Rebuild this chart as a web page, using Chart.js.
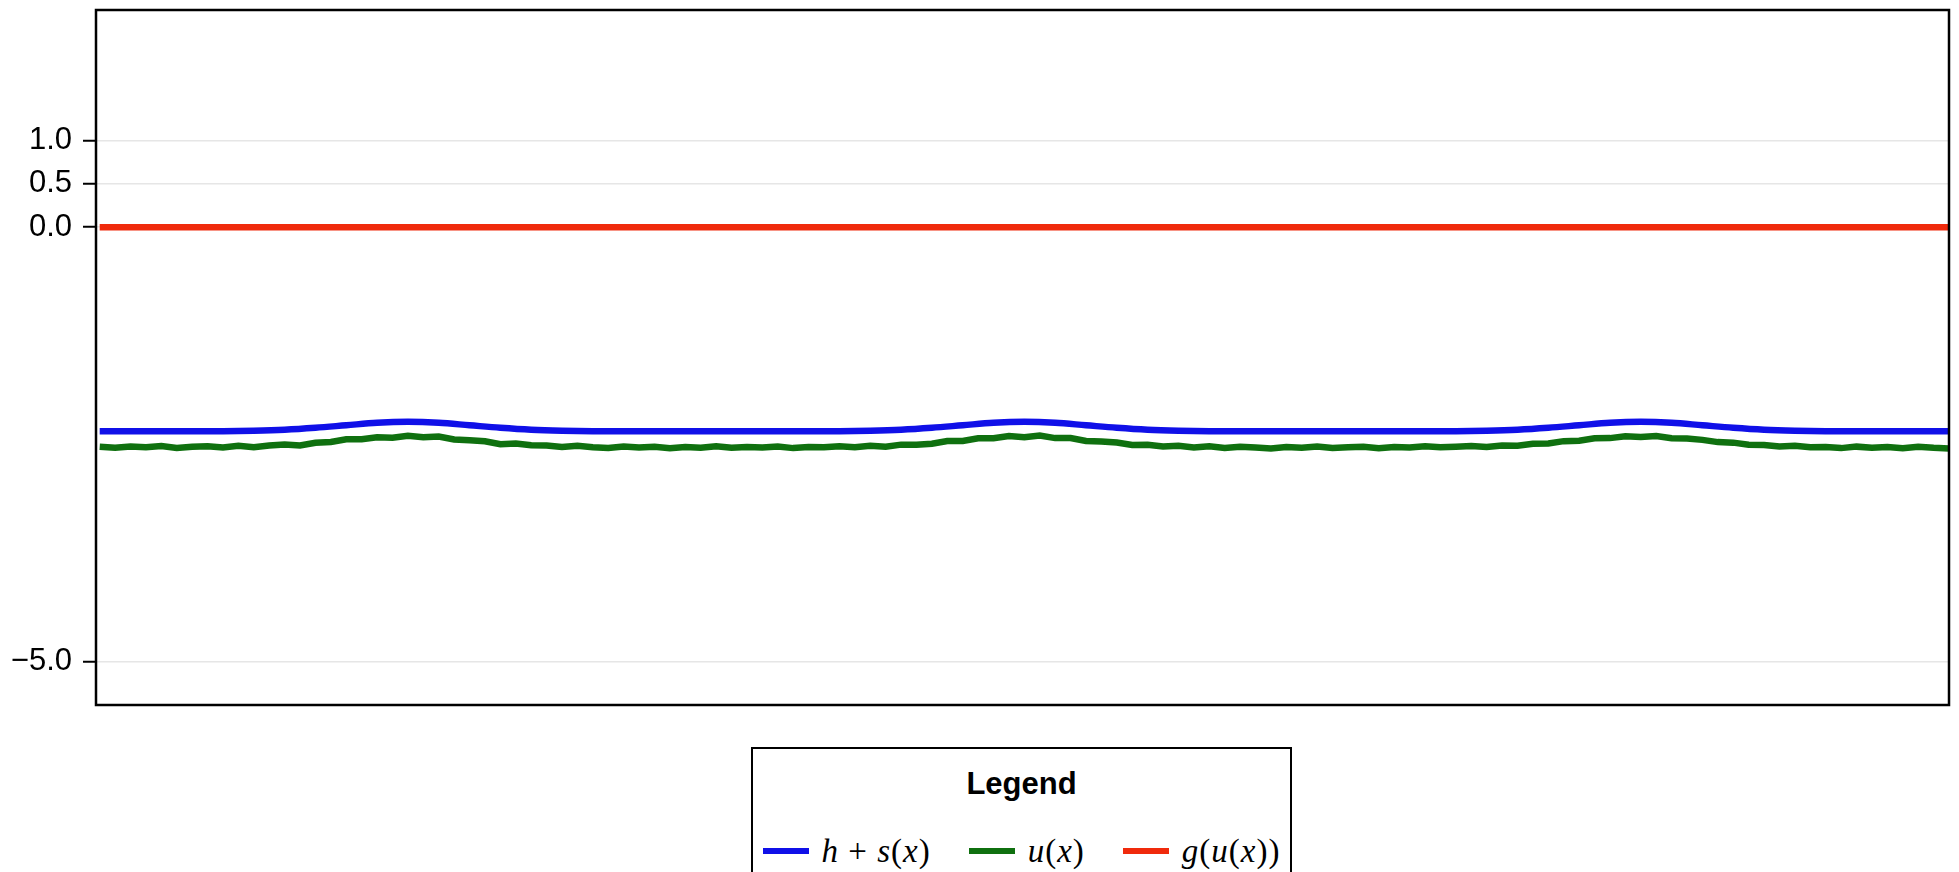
<!DOCTYPE html>
<html>
<head>
<meta charset="utf-8">
<script src="https://cdn.jsdelivr.net/npm/chart.js@4.4.0/dist/chart.umd.min.js"></script>
<style>
  html, body { margin: 0; padding: 0; background: #fff; }
  #wrap { position: relative; width: 1959px; height: 872px; overflow: hidden; }
  #legend {
    position: absolute; left: 751px; top: 747px; width: 541px; height: 140px;
    border: 2px solid #000; background: #fff; box-sizing: border-box;
  }
  #legend .title {
    position: absolute; left: 0; right: 0; top: 17px; height: 34px; line-height: 34px;
    text-align: center; font: bold 31px "Liberation Sans", Arial, sans-serif; color: #000;
  }
  #legend .row {
    position: absolute; left: 0; right: 0; top: 84px; height: 36px;
    display: flex; justify-content: center; align-items: center; gap: 38px;
  }
  #legend .item { display: flex; align-items: center; gap: 13px; }
  #legend .swatch { width: 46px; height: 6px; }
  #legend .lbl { font: 33px "Liberation Serif", "DejaVu Serif", serif; color: #000; white-space: pre; letter-spacing: 1px; }
</style>
</head>
<body>
<div id="wrap">
  <canvas id="c" width="1959" height="872"></canvas>
  <div id="legend"><div class="title">Legend</div><div class="row"></div></div>
</div>
<script>
// series names and colours
const seriesNames = ["h + s(x)", "u(x)", "g(u(x))"];
const seriesColors = ["#1010e8", "#0f700f", "#f02a0c"];

// y axis ticks
const yTicks = [1.0, 0.5, 0.0, -5.0];

// h + s(x), sampled on 61 even points over [0, 1]
const hsValues = [
  -2.35, -2.35, -2.35, -2.35, -2.349, -2.343, -2.331, -2.309, -2.28, -2.251,
  -2.24, -2.251, -2.28, -2.309, -2.331, -2.343, -2.349, -2.35, -2.35, -2.35,
  -2.35, -2.35, -2.35, -2.35, -2.349, -2.343, -2.331, -2.309, -2.28, -2.251,
  -2.24, -2.251, -2.28, -2.309, -2.331, -2.343, -2.349, -2.35, -2.35, -2.35,
  -2.35, -2.35, -2.35, -2.35, -2.349, -2.343, -2.331, -2.309, -2.28, -2.251,
  -2.24, -2.251, -2.28, -2.309, -2.331, -2.343, -2.349, -2.35, -2.35, -2.35,
  -2.35
];

// u(x), sampled on 121 even points over [0, 1]
const uValues = [
  -2.526, -2.538, -2.524, -2.533, -2.520, -2.542, -2.528, -2.523, -2.535, -2.517,
  -2.532, -2.514, -2.502, -2.513, -2.481, -2.472, -2.442, -2.442, -2.419, -2.424,
  -2.401, -2.418, -2.410, -2.443, -2.453, -2.464, -2.499, -2.491, -2.511, -2.513,
  -2.531, -2.516, -2.532, -2.541, -2.524, -2.536, -2.527, -2.545, -2.530, -2.538,
  -2.522, -2.540, -2.531, -2.537, -2.525, -2.543, -2.529, -2.534, -2.521, -2.533,
  -2.515, -2.527, -2.503, -2.505, -2.493, -2.462, -2.460, -2.429, -2.430, -2.405,
  -2.418, -2.398, -2.428, -2.427, -2.461, -2.466, -2.479, -2.508, -2.505, -2.524,
  -2.517, -2.535, -2.523, -2.541, -2.528, -2.537, -2.546, -2.530, -2.539, -2.525,
  -2.542, -2.533, -2.527, -2.544, -2.529, -2.536, -2.522, -2.534, -2.528, -2.519,
  -2.530, -2.512, -2.516, -2.494, -2.490, -2.463, -2.458, -2.430, -2.428, -2.407,
  -2.415, -2.404, -2.429, -2.432, -2.448, -2.474, -2.480, -2.504, -2.506, -2.523,
  -2.517, -2.534, -2.529, -2.543, -2.526, -2.539, -2.531, -2.545, -2.528, -2.540,
  -2.547
];

// g(u(x)) at the two ends of the domain
const gX = [0, 1];
const gValues = [0, 0];

const grid = (n) => Array.from({ length: n }, (_, i) => i / (n - 1));
const toPoints = (xs, ys) => ys.map((y, i) => ({ x: xs[i], y: y }));

const frame = {
  id: "frame",
  afterDraw(chart) {
    const a = chart.chartArea, ctx = chart.ctx;
    ctx.save();
    ctx.strokeStyle = "#000";
    ctx.lineWidth = 2.5;
    ctx.strokeRect(a.left, a.top, a.right - a.left, a.bottom - a.top);
    ctx.restore();
  }
};

const datasets = [
  { data: toPoints(grid(hsValues.length), hsValues), borderWidth: 6.5, cubicInterpolationMode: "monotone" },
  { data: toPoints(grid(uValues.length), uValues), borderWidth: 6.5 },
  { data: toPoints(gX, gValues), borderWidth: 6.5 }
].map((d, i) => Object.assign(d, {
  label: seriesNames[i],
  borderColor: seriesColors[i],
  backgroundColor: seriesColors[i],
  pointRadius: 0,
  fill: false
}));

new Chart(document.getElementById("c"), {
  type: "line",
  data: { datasets: datasets },
  options: {
    responsive: false,
    animation: false,
    layout: { padding: { left: 0, top: 10, right: 10, bottom: 167 } },
    plugins: { legend: { display: false }, tooltip: { enabled: false } },
    scales: {
      x: { type: "linear", min: -0.002, max: 1.0, display: false },
      y: {
        min: -5.5, max: 2.5,
        afterBuildTicks: (s) => { s.ticks = yTicks.map(v => ({ value: v })); },
        afterFit: (s) => { s.width = 96; s.paddingTop = 0; s.paddingBottom = 0; },
        border: { display: false },
        grid: { color: "#e6e6e6", lineWidth: 1.5, tickColor: "#000", tickWidth: 2, tickLength: 13 },
        ticks: {
          padding: 11,
          color: "#000",
          font: { family: "'Liberation Sans', Arial, sans-serif", size: 31 },
          callback: (v) => (v < 0 ? "\u2212" + Math.abs(v).toFixed(1) : v.toFixed(1))
        }
      }
    }
  },
  plugins: [frame]
});

// legend built from the series names/colours
const row = document.querySelector("#legend .row");
const mathify = (s) => s.replace(/[a-z]/g, (m) => "<i>" + m + "</i>");
seriesNames.forEach((name, i) => {
  const item = document.createElement("div");
  item.className = "item";
  item.innerHTML = '<span class="swatch" style="background:' + seriesColors[i] + '"></span>' +
    '<span class="lbl">' + mathify(name) + "</span>";
  row.appendChild(item);
});
</script>
</body>
</html>
